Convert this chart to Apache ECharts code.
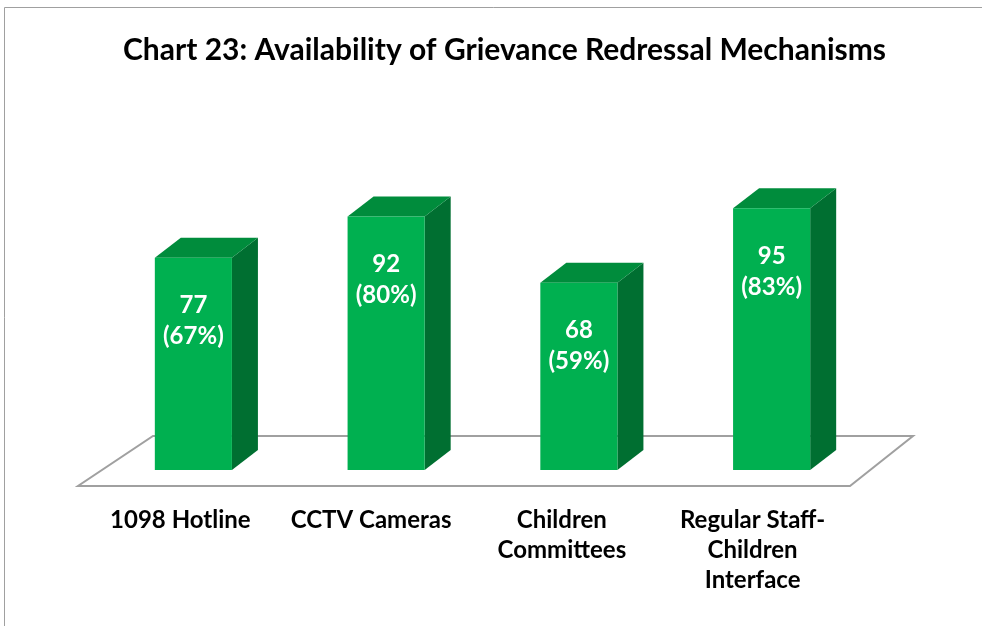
<!DOCTYPE html>
<html>
<head>
<meta charset="utf-8">
<script src="https://cdn.jsdelivr.net/npm/echarts@6/dist/echarts.min.js"></script>
<style>
  html, body { margin: 0; padding: 0; background: #fff; }
  #chart { width: 982px; height: 626px; }
</style>
</head>
<body>
<div id="chart"></div>
<script>
// data
const categories = ['1098 Hotline', 'CCTV Cameras', 'Children\nCommittees', 'Regular Staff-\nChildren\nInterface']
const counts = [77, 92, 68, 95]
const percents = [67, 80, 59, 83]

const FONT = 'Lato, "Liberation Sans", sans-serif'
const DEPTH_X = 26
const DEPTH_Y = 20

const chart = echarts.init(document.getElementById('chart'))

// 3d-ish bar: front face, right side, top
function renderBar (params, api) {
  const idx = api.value(0)
  const top = api.coord([idx, api.value(1)])
  const base = api.coord([idx, 0])
  const w = api.size([1, 0])[0] * 0.4
  const x0 = top[0] - w / 2
  const x1 = top[0] + w / 2
  return {
    type: 'group',
    children: [
      {
        type: 'polygon',
        shape: { points: [[x1, top[1]], [x1 + DEPTH_X, top[1] - DEPTH_Y], [x1 + DEPTH_X, base[1] - DEPTH_Y], [x1, base[1]]] },
        style: { fill: '#006f31' }
      },
      {
        type: 'polygon',
        shape: { points: [[x0, top[1]], [x0 + DEPTH_X, top[1] - DEPTH_Y], [x1 + DEPTH_X, top[1] - DEPTH_Y], [x1, top[1]]] },
        style: { fill: '#008c3c' }
      },
      {
        type: 'rect',
        shape: { x: x0, y: top[1], width: w, height: base[1] - top[1] },
        style: { fill: '#00b050' }
      },
      {
        type: 'text',
        x: top[0],
        y: top[1] + 32,
        style: {
          text: api.value(1) + '\n(' + percents[idx] + '%)',
          fill: '#fff',
          font: 'bold 24px ' + FONT,
          lineHeight: 31,
          align: 'center',
          verticalAlign: 'top'
        }
      }
    ]
  }
}

// floor under the bars
function renderFloor (params, api) {
  const cs = params.coordSys
  const baseY = api.coord([0, 0])[1]
  const fl = cs.x - 19
  const fr = cs.x + cs.width - 18
  const fy = baseY + 16
  const by = baseY - 34
  return {
    type: 'polygon',
    shape: { points: [[fl, fy], [fr, fy], [fr + 63, by], [fl + 75, by]] },
    style: { fill: '#fff', stroke: '#a0a0a0', lineWidth: 2 }
  }
}

const option = {
  backgroundColor: '#fff',
  title: {
    text: 'Chart 23: Availability of Grievance Redressal Mechanisms',
    left: 118,
    top: 30,
    textStyle: { fontFamily: FONT, fontWeight: 'bold', fontSize: 30, color: '#000' }
  },
  graphic: [
    {
      type: 'rect',
      left: 4,
      top: 7,
      shape: { width: 990, height: 640 },
      style: { fill: 'transparent', stroke: '#a0a0a0', lineWidth: 1 },
      z: -10
    }
  ],
  grid: [
    { left: 97, width: 771, top: 194.5, bottom: 156 },
    { left: 85, width: 763, top: 194.5, bottom: 156 }
  ],
  xAxis: [
    {
      type: 'category',
      gridIndex: 0,
      data: categories,
      show: false
    },
    {
      type: 'category',
      gridIndex: 1,
      data: categories,
      axisLine: { show: false },
      axisTick: { show: false },
      axisLabel: {
        margin: 35,
        interval: 0,
        fontFamily: FONT,
        fontWeight: 'bold',
        fontSize: 24,
        lineHeight: 30,
        color: '#000'
      }
    }
  ],
  yAxis: [
    { type: 'value', gridIndex: 0, min: 0, max: 100, show: false },
    { type: 'value', gridIndex: 1, min: 0, max: 100, show: false }
  ],
  series: [
    {
      type: 'custom',
      xAxisIndex: 0,
      yAxisIndex: 0,
      renderItem: renderFloor,
      data: [[0, 0]],
      z: 1,
      silent: true
    },
    {
      type: 'custom',
      xAxisIndex: 0,
      yAxisIndex: 0,
      renderItem: renderBar,
      data: counts.map((v, i) => [i, v]),
      z: 2
    }
  ]
}

chart.setOption(option)
</script>
</body>
</html>
